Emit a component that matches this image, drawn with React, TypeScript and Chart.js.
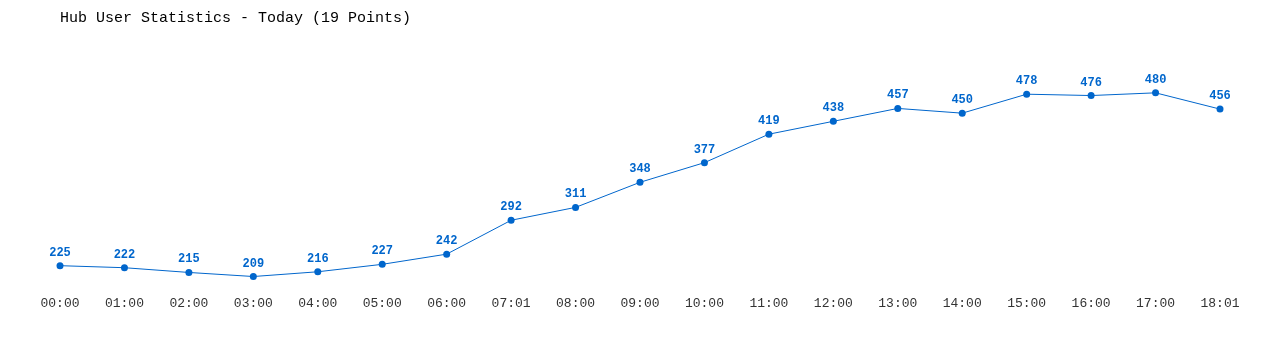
import React, { useEffect, useRef } from "react";
import { Chart, registerables } from "chart.js";

Chart.register(...registerables);

const categories = ["00:00","01:00","02:00","03:00","04:00","05:00","06:00","07:01","08:00","09:00","10:00","11:00","12:00","13:00","14:00","15:00","16:00","17:00","18:01"];
const users = [225,222,215,209,216,227,242,292,311,348,377,419,438,457,450,478,476,480,456];
const titleText = "Hub User Statistics - Today (19 Points)";

const BLUE = "#0066cc";
const MONO = "'Liberation Mono', 'DejaVu Sans Mono', monospace";

const valueLabels = {
  id: "valueLabels",
  afterDatasetsDraw(chart: any) {
    const ctx = chart.ctx;
    const meta = chart.getDatasetMeta(0);
    const data = chart.data.datasets[0].data;
    ctx.save();
    ctx.fillStyle = BLUE;
    ctx.font = `bold 12px ${MONO}`;
    ctx.textAlign = "center";
    ctx.textBaseline = "middle";
    meta.data.forEach((pt: any, i: number) => {
      ctx.fillText(String(data[i]), pt.x, pt.y - 13);
    });
    ctx.restore();
  },
};

export default function App() {
  const ref = useRef<HTMLCanvasElement>(null);
  useEffect(() => {
    document.body.style.margin = "0";
    const chart = new Chart(ref.current!, {
      type: "line",
      data: {
        labels: categories,
        datasets: [
          {
            data: users,
            borderColor: BLUE,
            backgroundColor: BLUE,
            borderWidth: 1,
            pointRadius: 3.5,
            pointBackgroundColor: BLUE,
            pointBorderWidth: 0,
            tension: 0,
          },
        ],
      },
      options: {
        animation: false,
        responsive: false,
        maintainAspectRatio: false,
        layout: { padding: { left: 60, right: 60, top: 0, bottom: 33 } },
        plugins: {
          legend: { display: false },
          tooltip: { enabled: false },
          title: {
            display: true,
            text: titleText,
            align: "start",
            color: "#000",
            font: { family: MONO, size: 15, weight: "normal" },
            padding: { top: 9, bottom: 45.5 },
          },
        },
        scales: {
          x: {
            offset: false,
            grid: { display: false, drawTicks: false },
            border: { display: false },
            ticks: {
              color: "#333",
              font: { family: MONO, size: 13 },
              padding: 6,
              maxRotation: 0,
              autoSkip: false,
            },
          },
          y: {
            display: false,
            min: 190,
            max: 510,
          },
        },
      },
      plugins: [valueLabels],
    });
    return () => chart.destroy();
  }, []);
  return <canvas ref={ref} width={1280} height={350} style={{ display: "block" }} />;
}
